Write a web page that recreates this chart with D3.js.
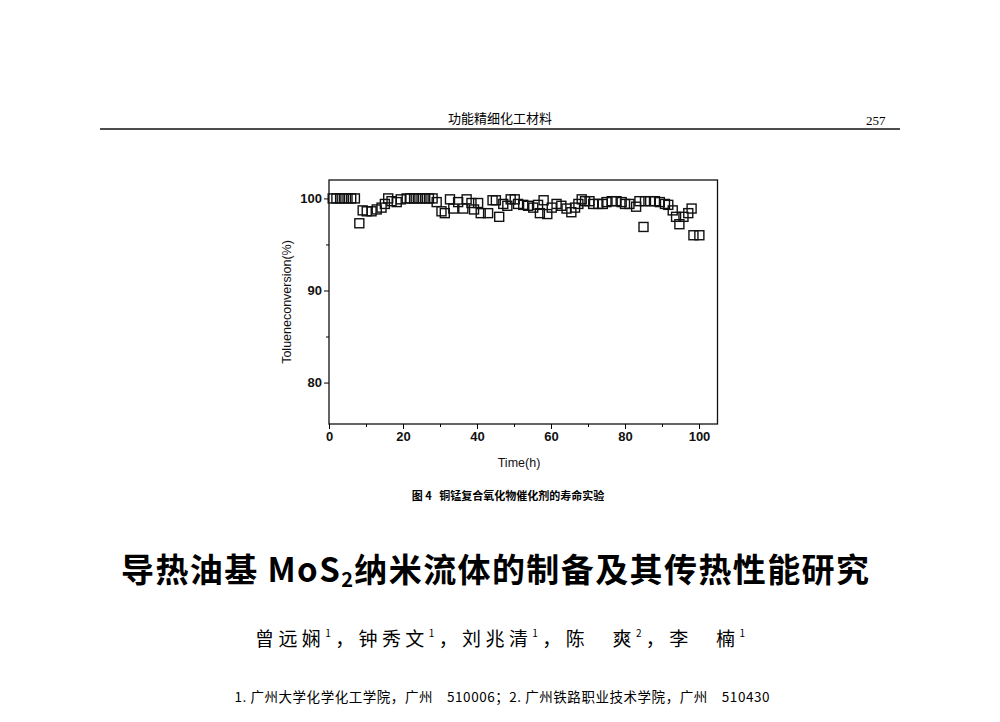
<!DOCTYPE html>
<html><head><meta charset="utf-8">
<script src="https://d3js.org/d3.v7.min.js"></script>
<style>body{margin:0;background:#fff}svg{display:block}</style>
</head><body><svg id="c" width="1000" height="722"></svg>
<script>
const timeH = [1,2,3,4,5,6,7,8.2,9.1,10.2,11.5,12.9,14.2,15.1,16,16.9,18.3,19.4,21,22,23,24,25,26,27,28,29.1,30.4,31.3,32.7,33.6,34.9,36.3,37.2,38.5,39.2,40.3,41,43,44.2,45.1,46,47.1,48.2,49.1,50.2,51.1,52.5,53.8,55.2,56.5,57,58,59,60.2,61.5,62.8,64.2,65.5,66.5,67.4,68.3,69.2,70.4,71.4,72.8,74,75,76.4,77.7,79.1,80,81.2,83,83.9,85,85.4,86.8,88.1,89.4,90.8,91.7,92.9,93.8,94.7,95.8,97.1,98,98.5,100.1];
const conversion = [100,100,100,100,100,100,100,97.3,98.7,98.6,98.6,98.8,99,99.4,100,99.7,99.6,99.9,100,100,100,100,100,100,100,100,99.6,98.6,98.4,99.9,98.9,99.6,98.9,99.9,99.5,98.8,99.5,98.4,98.4,99.8,99.8,98,99.4,99.2,99.9,99.9,99.4,99.3,99.2,99,99.3,98.4,99.8,98.3,99,99.4,99.2,98.9,98.5,99,99.4,99.9,99.7,99.7,99.4,99.4,99.4,99.6,99.7,99.7,99.6,99.4,99.4,99.1,99.7,96.9,99.7,99.7,99.7,99.6,99.4,99.3,98.7,98,97.2,98,98.4,98.9,96,96];
const xTicks = [0,20,40,60,80,100];
const yTicks = [80,90,100];

const svg = d3.select("#c");
const font = "Liberation Sans, Arial, sans-serif";
const cjk = "Noto Sans CJK SC";
const x = d3.scaleLinear().domain([0,105]).range([329,717.5]);
const y = d3.scaleLinear().domain([75.5,102]).range([424,180]);

// page header
svg.append("line").attr("x1",100).attr("x2",900).attr("y1",129).attr("y2",129).attr("stroke","#111").attr("stroke-width",1.6);
svg.append("text").attr("x",500).attr("y",123).attr("text-anchor","middle").attr("font-family",cjk).attr("font-size",13).text("功能精细化工材料");
svg.append("text").attr("x",866).attr("y",125).attr("font-family","Liberation Serif").attr("font-size",13).text("257");

// frame and axes
svg.append("rect").attr("x",329).attr("y",180).attr("width",388.5).attr("height",244).attr("fill","none").attr("stroke","#111").attr("stroke-width",1.3);
svg.append("g").attr("transform","translate(0,424)")
  .call(d3.axisBottom(x).tickValues(xTicks).tickSize(5).tickPadding(3))
  .call(g=>g.select(".domain").remove())
  .call(g=>g.selectAll("text").attr("font-family",font).attr("font-size",13).attr("font-weight","bold").attr("fill","#111"));
svg.append("g").attr("transform","translate(0,424)")
  .call(d3.axisBottom(x).tickValues([10,30,50,70,90]).tickSize(3).tickFormat(""))
  .call(g=>g.select(".domain").remove());
svg.append("g").attr("transform","translate(329,0)")
  .call(d3.axisLeft(y).tickValues(yTicks).tickSize(5).tickPadding(2))
  .call(g=>g.select(".domain").remove())
  .call(g=>g.selectAll("text").attr("font-family",font).attr("font-size",13).attr("font-weight","bold").attr("fill","#111"));
svg.append("g").attr("transform","translate(329,0)")
  .call(d3.axisLeft(y).tickValues([85,95]).tickSize(3).tickFormat(""))
  .call(g=>g.select(".domain").remove());

svg.append("g").selectAll("rect").data(timeH).join("rect")
  .attr("x",(d)=>x(d)-4.5).attr("y",(d,i)=>y(conversion[i])-4.5)
  .attr("width",9).attr("height",9).attr("fill","none").attr("stroke","#111").attr("stroke-width",1.4);

svg.append("text").attr("x",519).attr("y",467).attr("text-anchor","middle").attr("font-family",font).attr("font-size",12.5).attr("fill","#111").text("Time(h)");
svg.append("text").attr("transform","translate(291,302) rotate(-90)").attr("text-anchor","middle").attr("font-family",font).attr("font-size",12.5).attr("fill","#111").text("Tolueneconversion(%)");

svg.append("text").attr("x",508).attr("y",500).attr("text-anchor","middle").attr("font-family",cjk).attr("font-size",11).attr("font-weight","bold").attr("xml:space","preserve").text("图 4   铜锰复合氧化物催化剂的寿命实验");

// article title
const t = svg.append("text").attr("x",495).attr("y",582).attr("text-anchor","middle").attr("font-family",cjk).attr("font-size",33).attr("font-weight","bold").attr("textLength",748).attr("lengthAdjust","spacing");
t.append("tspan").text("导热油基 MoS");
t.append("tspan").attr("font-size",20).attr("dy",5).text("2");
t.append("tspan").attr("dy",-5).text("纳米流体的制备及其传热性能研究");

const a = svg.append("text").attr("x",500).attr("y",646).attr("text-anchor","middle").attr("font-family",cjk).attr("font-size",19).attr("xml:space","preserve").attr("textLength",490).attr("lengthAdjust","spacing");
[["曾远娴","1"],["，钟秀文","1"],["，刘兆清","1"],["，陈　爽","2"],["，李　楠","1"]].forEach(([n,s])=>{
  a.append("tspan").attr("baseline-shift","0").text(n);
  a.append("tspan").attr("font-size",10).attr("baseline-shift","9").text(s);
});
svg.append("text").attr("x",502).attr("y",702).attr("text-anchor","middle").attr("font-family",cjk).attr("font-size",13.5).attr("xml:space","preserve").attr("textLength",535).attr("lengthAdjust","spacing")
  .text("1. 广州大学化学化工学院，广州　510006；2. 广州铁路职业技术学院，广州　510430");
</script></body></html>
